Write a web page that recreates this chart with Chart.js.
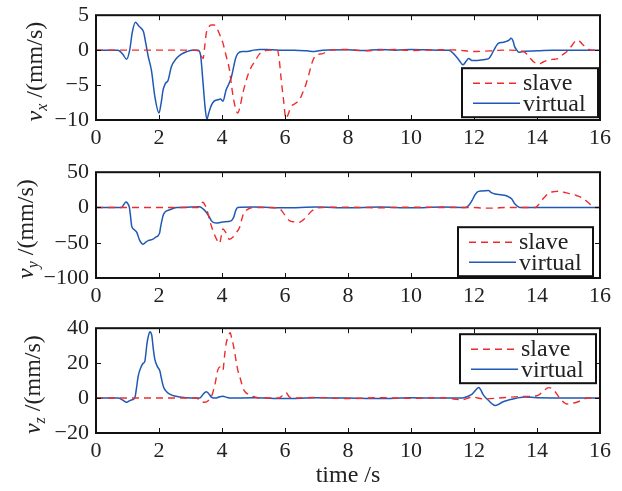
<!DOCTYPE html>
<html>
<head>
<meta charset="utf-8">
<script src="https://cdn.jsdelivr.net/npm/chart.js@4.4.1/dist/chart.umd.min.js"></script>
<style>
  html, body { margin: 0; padding: 0; background: #fff; overflow: hidden; }
  #wrap { position: relative; width: 622px; height: 491px; overflow: hidden; }
  #wrap canvas { position: absolute; left: 0; }
</style>
</head>
<body>
<div id="wrap">
  <canvas id="vxChart" width="622" height="165" style="top:-5px"></canvas>
  <canvas id="vyChart" width="622" height="166" style="top:152px"></canvas>
  <canvas id="vzChart" width="622" height="183" style="top:308px"></canvas>
</div>
<script>
// tick values
const timeTicks = [0, 2, 4, 6, 8, 10, 12, 14, 16];
const vxTicks = [-10, -5, 0, 5];
const vyTicks = [-100, -50, 0, 50];
const vzTicks = [-20, 0, 20, 40];

const seriesNames = ['slave', 'virtual'];

// v_x (mm/s)
const vxSlaveT = [0, 3.2, 3.3, 3.4, 3.45, 3.5, 3.58, 3.66, 3.75, 3.82, 3.92, 4.03, 4.13, 4.24, 4.3, 4.37, 4.44, 4.5, 4.58, 4.66, 4.74, 4.82, 4.92, 5.03, 5.2, 5.35, 5.5, 5.76, 5.82, 5.87, 5.95, 6.03, 6.1, 6.19, 6.3, 6.46, 6.57, 6.67, 6.75, 6.82, 6.9, 7.0, 7.2, 7.4, 8, 8.5, 9, 9.5, 10, 10.5, 11, 11.5, 12, 12.5, 13, 13.57, 13.68, 13.79, 13.9, 14.05, 14.2, 14.37, 14.55, 14.68, 14.8, 14.95, 15.1, 15.26, 15.35, 15.45, 15.53, 15.65, 15.74, 16];
const vxSlaveV = [0, 0, -0.5, -1.2, 0.5, 2.4, 3.3, 3.6, 3.6, 3.3, 2.3, 1.0, -0.8, -2.9, -5, -7.1, -8.5, -9.0, -7.9, -6.2, -4.8, -3.6, -2.5, -1.7, -0.5, -0.1, 0, 0, -1.5, -3.8, -7, -9.8, -9.2, -8.1, -7.7, -7.1, -6.0, -4.8, -3.6, -2.4, -1.3, -0.7, -0.5, 0, 0.1, -0.1, 0, 0.1, -0.05, 0, 0.05, 0, -0.2, -0.1, 0, -0.2, -0.6, -1.2, -1.7, -2.0, -1.7, -1.4, -1.3, -1.2, -0.7, -0.2, 0.6, 1.4, 1.3, 0.8, 0.5, 0.1, 0, 0];
const vxVirtualT = [0, 0.7, 0.85, 0.97, 1.07, 1.15, 1.25, 1.35, 1.44, 1.51, 1.58, 1.66, 1.76, 1.87, 2.0, 2.07, 2.13, 2.2, 2.29, 2.39, 2.55, 2.7, 2.87, 3.05, 3.24, 3.32, 3.4, 3.47, 3.52, 3.58, 3.66, 3.75, 3.87, 3.95, 4.03, 4.13, 4.22, 4.29, 4.37, 4.43, 4.5, 4.65, 4.8, 5.0, 5.2, 5.4, 5.8, 6.3, 6.7, 6.93, 7.2, 8, 8.5, 9, 9.5, 10, 10.5, 11, 11.2, 11.35, 11.52, 11.65, 11.75, 11.83, 11.95, 12.04, 12.26, 12.4, 12.47, 12.56, 12.63, 12.78, 12.9, 12.99, 13.1, 13.18, 13.24, 13.29, 13.36, 13.42, 13.6, 14, 14.5, 16];
const vxVirtualV = [0, 0, -0.6, -1.3, 0, 2.5, 4.0, 3.5, 3.1, 2.6, 1.0, -0.95, -2.9, -6.7, -9.0, -7.5, -5.7, -4.8, -4.3, -2.4, -1.2, -0.6, -0.24, 0, 0, -0.7, -4.8, -8.5, -9.9, -9.0, -7.9, -7.3, -7.1, -7.0, -7.3, -5.7, -4.8, -4.0, -2.4, -1.2, -0.5, -0.2, -0.2, 0, 0.1, 0.1, 0, 0, -0.1, -0.2, 0, 0.05, -0.05, 0.1, 0, 0.1, 0.05, 0, 0, -0.5, -1.4, -2.1, -1.6, -1.2, -1.5, -1.5, -1.4, -1.3, -1.2, -0.6, 0, 1.0, 1.1, 1.2, 1.4, 1.7, 1.3, 0.5, 0, -0.3, -0.15, -0.1, 0, 0];

// v_y (mm/s)
const vySlaveT = [0, 3.25, 3.33, 3.4, 3.45, 3.5, 3.61, 3.73, 3.85, 3.92, 3.98, 4.03, 4.1, 4.24, 4.35, 4.45, 4.56, 4.62, 4.68, 4.8, 5.0, 5.5, 5.82, 5.95, 6.14, 6.3, 6.46, 6.57, 6.67, 6.78, 6.88, 7.0, 7.2, 8, 9, 10, 11, 12, 12.3, 12.6, 13, 13.95, 14.05, 14.15, 14.25, 14.36, 14.55, 14.74, 14.9, 15.1, 15.25, 15.42, 15.6, 15.74, 15.85, 16];
const vySlaveV = [0, 0, 4, 7.6, 4, 0, -18.6, -35, -47, -51, -40, -30.5, -34, -45, -42, -36, -28, -18, -9, -3, 0, 0, -1.5, -8, -18.6, -20.5, -21, -18, -14, -8, -4, -1, 0, 0.5, -0.5, 0.5, 0, 0, -1, -1, 0, 0, 4, 10, 15, 20, 22.5, 23, 21, 19, 17, 14, 8, 2.4, 0, 0];
const vyVirtualT = [0, 0.81, 0.88, 0.95, 1.0, 1.06, 1.1, 1.13, 1.2, 1.29, 1.39, 1.5, 1.58, 1.66, 1.81, 1.9, 1.97, 2.02, 2.05, 2.1, 2.13, 2.2, 2.34, 2.55, 3.0, 3.29, 3.4, 3.5, 3.58, 3.66, 3.74, 3.82, 4.03, 4.29, 4.33, 4.37, 4.43, 4.5, 5, 6, 7, 8, 9, 10, 11, 11.73, 11.85, 11.94, 12.02, 12.1, 12.25, 12.46, 12.55, 12.67, 12.85, 13.0, 13.1, 13.2, 13.28, 13.36, 13.45, 16];
const vyVirtualV = [0, 0, 4, 7.6, 6, 0, -14, -25.7, -31, -35, -47, -52, -49, -47, -45, -42, -40, -36, -28, -17, -11.4, -6, -3.3, 0, 0.5, 1, -2, -6.7, -12, -18.6, -21.5, -22, -20.5, -19, -17, -14, -5, 0, 0.5, -0.5, 0.5, -0.5, 0.5, -0.5, 0.5, 0, 4, 10, 17, 21.9, 23.5, 24, 21, 19, 18, 17, 15, 12, 6, 2.4, 0, 0];

// v_z (mm/s)
const vzSlaveT = [0, 3.2, 3.29, 3.45, 3.57, 3.65, 3.71, 3.79, 3.87, 3.96, 4.03, 4.08, 4.13, 4.2, 4.26, 4.31, 4.37, 4.45, 4.5, 4.56, 4.63, 4.71, 4.85, 4.97, 5.2, 5.8, 5.92, 6.03, 6.14, 6.3, 7, 8, 9, 10, 11, 11.62, 11.94, 12.3, 12.78, 13.4, 13.8, 14.05, 14.2, 14.37, 14.47, 14.56, 14.68, 14.79, 14.95, 15.1, 15.26, 15.45, 15.6, 16];
const vzSlaveV = [0, 0, -1.5, -2.4, -1.4, 0.5, 3.2, 9, 16.3, 18, 16, 24, 31, 35.5, 37.4, 34, 29.5, 21, 16, 12.6, 8, 4.1, 2, 1, 0, 0, 1.5, 3.2, 0.6, 0, 0.3, -0.3, 0.2, -0.2, 0.2, -1, 0.6, -0.5, 0, 0.8, 1, 1.7, 4, 6, 5.5, 4, 1, -1.5, -3.4, -3, -2.4, -1, 0, 0];
const vzVirtualT = [0, 0.7, 0.85, 0.97, 1.1, 1.23, 1.28, 1.34, 1.44, 1.5, 1.55, 1.58, 1.62, 1.67, 1.71, 1.74, 1.77, 1.82, 1.87, 1.95, 2.03, 2.08, 2.15, 2.25, 2.34, 2.5, 2.66, 3.0, 3.3, 3.4, 3.5, 3.58, 3.66, 3.8, 3.9, 4.03, 4.15, 4.3, 5, 6, 7, 8, 9, 10, 11, 11.62, 11.8, 11.94, 12.05, 12.15, 12.22, 12.28, 12.38, 12.47, 12.58, 12.68, 12.78, 12.89, 13.05, 13.2, 13.6, 14, 16];
const vzVirtualV = [0, 0, -1.2, -2.4, -1.2, 0, 5, 12.6, 18.2, 20, 21, 25, 31.4, 36, 37.9, 37.5, 36, 28, 22, 18, 15.4, 11, 6, 3.5, 2.3, 1.2, 0.6, 0, 0, 2.2, 3.6, 2.5, 0.6, 0, 0.6, 1, 0.4, 0, 0.2, -0.3, 0.2, 0, -0.3, 0.2, 0, 0, 1, 2.3, 4.5, 6, 4.5, 2.3, 0, -1.5, -3.4, -4.3, -3.6, -2.4, -1.4, -0.7, 0.6, 0.2, 0];

const RED = '#ef2c2c';
const BLUE = '#1f58b5';
const SERIF = '"Liberation Serif", "Times New Roman", serif';

function pts(ts, vs) {
    return ts.map((t, i) => ({ x: t, y: vs[i] }));
}

function minusSign(v) {
    return String(v).replace('-', '\u2212');
}

// box, inward ticks, legend and axis titles
const panelDecor = {
    id: 'panelDecor',
    afterDatasetsDraw(chart, args, opts) {
        const ctx = chart.ctx;
        const a = chart.chartArea;
        const xs = chart.scales.x, ys = chart.scales.y;
        ctx.save();

        // inward tick marks on all four sides
        ctx.strokeStyle = '#111';
        ctx.lineWidth = 1;
        ctx.beginPath();
        timeTicks.forEach(t => {
            const px = Math.round(xs.getPixelForValue(t)) + 0.5;
            ctx.moveTo(px, a.bottom); ctx.lineTo(px, a.bottom - 5);
            ctx.moveTo(px, a.top); ctx.lineTo(px, a.top + 5);
        });
        opts.yTicks.forEach(v => {
            const py = Math.round(ys.getPixelForValue(v)) + 0.5;
            ctx.moveTo(a.left, py); ctx.lineTo(a.left + 5, py);
            ctx.moveTo(a.right, py); ctx.lineTo(a.right - 5, py);
        });
        ctx.stroke();

        // frame
        ctx.lineWidth = 2;
        ctx.strokeRect(a.left, a.top, a.right - a.left, a.bottom - a.top);

        // legend box, placed relative to the plot area
        const lg = opts.legend;
        const lx = a.left + lg.dx, ly = a.top + lg.dy;
        ctx.fillStyle = '#fff';
        ctx.fillRect(lx, ly, lg.w, lg.h);
        ctx.strokeStyle = '#111';
        ctx.lineWidth = 2;
        ctx.strokeRect(lx, ly, lg.w, lg.h);

        const row1 = ly + 15, row2 = ly + 35;
        ctx.lineWidth = 1.5;
        ctx.strokeStyle = RED;
        ctx.setLineDash([7, 5]);
        ctx.beginPath(); ctx.moveTo(lx + 11, row1); ctx.lineTo(lx + 58, row1); ctx.stroke();
        ctx.setLineDash([]);
        ctx.strokeStyle = BLUE;
        ctx.beginPath(); ctx.moveTo(lx + 11, row2); ctx.lineTo(lx + 58, row2); ctx.stroke();

        ctx.fillStyle = '#222';
        ctx.font = '24px ' + SERIF;
        ctx.textAlign = 'left';
        ctx.textBaseline = 'alphabetic';
        ctx.fillText(seriesNames[0], lx + 61, ly + 22);
        ctx.fillText(seriesNames[1], lx + 61, ly + 43);

        // y axis title: v_sub /(mm/s)
        const big = 'italic 24px ' + SERIF;
        const small = 'italic 16px ' + SERIF;
        const rest = ' /(mm/s)';
        ctx.font = big; const wv = ctx.measureText('v').width;
        ctx.font = small; const ws = ctx.measureText(opts.sub).width;
        ctx.font = '24px ' + SERIF; const wr = ctx.measureText(rest).width;
        const total = wv + ws + wr;
        ctx.translate(opts.labelX, (a.top + a.bottom) / 2 + 4);
        ctx.rotate(-Math.PI / 2);
        let cx = -total / 2;
        ctx.font = big; ctx.fillText('v', cx, 0); cx += wv;
        ctx.font = small; ctx.fillText(opts.sub, cx, 5); cx += ws;
        ctx.font = '24px ' + SERIF; ctx.fillText(rest, cx, 0);
        ctx.setTransform(1, 0, 0, 1, 0, 0);

        if (opts.xTitle) {
            ctx.font = '24px ' + SERIF;
            ctx.textAlign = 'center';
            ctx.fillText(opts.xTitle, (a.left + a.right) / 2, a.bottom + 49);
        }
        ctx.restore();
    }
};

function makePanel(id, p) {
    const ctx = document.getElementById(id).getContext('2d');
    return new Chart(ctx, {
        type: 'line',
        data: {
            datasets: [
                {
                    label: seriesNames[0],
                    data: pts(p.slaveT, p.slaveV),
                    borderColor: RED,
                    borderWidth: 1.4,
                    borderDash: [7, 5],
                    pointRadius: 0,
                    fill: false,
                    cubicInterpolationMode: 'monotone'
                },
                {
                    label: seriesNames[1],
                    data: pts(p.virtT, p.virtV),
                    borderColor: BLUE,
                    borderWidth: 1.5,
                    pointRadius: 0,
                    fill: false,
                    cubicInterpolationMode: 'monotone'
                }
            ]
        },
        options: {
            responsive: false,
            animation: false,
            devicePixelRatio: 1,
            layout: { padding: { top: 15, right: 22, left: 0, bottom: 0 } },
            plugins: {
                legend: { display: false },
                tooltip: { enabled: false },
                panelDecor: p.decor
            },
            scales: {
                x: {
                    type: 'linear',
                    min: 0,
                    max: 16,
                    afterBuildTicks: s => { s.ticks = timeTicks.map(v => ({ value: v })); },
                    afterFit: s => { s.height = p.xHeight; },
                    grid: { display: false, drawTicks: false },
                    border: { display: false },
                    ticks: {
                        autoSkip: false,
                        maxRotation: 0,
                        padding: 5,
                        color: '#222',
                        font: { family: SERIF, size: 22 },
                        callback: v => minusSign(v)
                    }
                },
                y: {
                    min: p.yTicks[0],
                    max: p.yTicks[p.yTicks.length - 1],
                    afterBuildTicks: s => { s.ticks = p.yTicks.map(v => ({ value: v })); },
                    afterFit: s => { s.width = 96; },
                    grid: { display: false, drawTicks: false },
                    border: { display: false },
                    ticks: {
                        padding: 7,
                        color: '#222',
                        font: { family: SERIF, size: 22 },
                        callback: v => minusSign(v)
                    }
                }
            }
        },
        plugins: [panelDecor]
    });
}

makePanel('vxChart', {
    slaveT: vxSlaveT, slaveV: vxSlaveV, virtT: vxVirtualT, virtV: vxVirtualV,
    yTicks: vxTicks, xHeight: 40,
    decor: { yTicks: vxTicks, sub: 'x', labelX: 42, legend: { dx: 366, dy: 53, w: 136, h: 49 } }
});

makePanel('vyChart', {
    slaveT: vySlaveT, slaveV: vySlaveV, virtT: vyVirtualT, virtV: vyVirtualV,
    yTicks: vyTicks, xHeight: 40,
    decor: { yTicks: vyTicks, sub: 'y', labelX: 33, legend: { dx: 362, dy: 55, w: 135, h: 49 } }
});

makePanel('vzChart', {
    slaveT: vzSlaveT, slaveV: vzSlaveV, virtT: vzVirtualT, virtV: vzVirtualV,
    yTicks: vzTicks, xHeight: 58,
    decor: { yTicks: vzTicks, sub: 'z', labelX: 40, legend: { dx: 364, dy: 6, w: 136, h: 49 }, xTitle: 'time /s' }
});
</script>
</body>
</html>
